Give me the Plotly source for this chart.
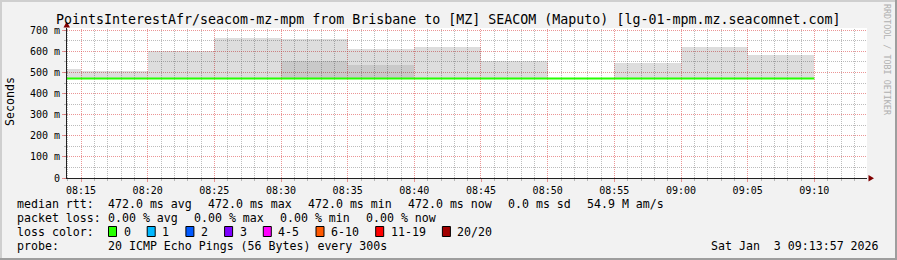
import math
import plotly.graph_objects as go
from datetime import datetime, timedelta

# ---------------- data ----------------
day = "2026-01-03"
bucket_end = ["08:15", "08:20", "08:25", "08:30", "08:35", "08:40",
              "08:45", "08:50", "08:55", "09:00", "09:05", "09:10"]
median_ms = [472, 472, 472, 472, 472, 472, 472, 472, 472, 472, 472, 472]
smoke_min_ms = [471, 471, 471, 471, 471, 471, 471, 471, 472, 471, 471, 471]
smoke_max_ms = [517, 506, 600, 662, 659, 611, 621, 555, 472, 545, 621, 583]
smoke_dense_ms = [471, 471, 471, 471, 553, 536, 471, 471, 472, 471, 471, 471]

y_tickvals = [0, 100, 200, 300, 400, 500, 600, 700]
y_ticktext = ["0", "100 m", "200 m", "300 m", "400 m", "500 m", "600 m", "700 m"]

x_start = "2026-01-03 08:13:57"
x_end = "2026-01-03 09:13:57"
y_max = 711

title_text = "PointsInterestAfr/seacom-mz-mpm from Brisbane to [MZ] SEACOM (Maputo) [lg-01-mpm.mz.seacomnet.com]"
rtt_label = "median rtt:"
rtt_items = ["472.0 ms avg", "472.0 ms max", "472.0 ms min", "472.0 ms now", "0.0 ms sd", "54.9 M am/s"]
loss_label = "packet loss:"
loss_items = ["0.00 % avg", "0.00 % max", "0.00 % min", "0.00 % now"]
color_label = "loss color:"
loss_color_labels = ["0", "1", "2", "3", "4-5", "6-10", "11-19", "20/20"]
loss_colors = ["#26ff00", "#00b8ff", "#0059ff", "#7e00ff", "#ff00fe", "#ff5900", "#ff0000", "#a10000"]
probe_label = "probe:"
probe_text = "20 ICMP Echo Pings (56 Bytes) every 300s"
stamp_text = "Sat Jan\u00a0\u00a03 09:13:57 2026"
side_text = "RRDTOOL / TOBI OETIKER"

# ---------------- geometry ----------------
W_PX, H_PX = 897, 260
L, R, T, B = 67, 30, 28, 82
PW, PH = W_PX - L - R, H_PX - T - B

def px(x):
    return (x - L) / PW

def py(y):
    return 1 - (y - T) / PH

STEP = timedelta(minutes=5)
ends = [datetime.fromisoformat(f"{day} {t}") for t in bucket_end]
centers = [e - STEP / 2 for e in ends]
starts = [e - STEP for e in ends]
t0 = datetime.fromisoformat(x_start)
t1 = datetime.fromisoformat(x_end)
span_s = (t1 - t0).total_seconds()

MONO = "DejaVu Sans Mono"
MGRID = "rgba(222,79,79,0.6)"
GRID = "rgba(143,143,143,0.6)"

fig = go.Figure()

# smoke (light, full range)
fig.add_trace(go.Bar(
    x=centers, base=smoke_min_ms,
    y=[mx - mn for mx, mn in zip(smoke_max_ms, smoke_min_ms)],
    width=[STEP.total_seconds() * 1000] * len(centers),
    marker=dict(color="rgba(0,0,0,0.133)", line=dict(width=0)),
    hoverinfo="skip", showlegend=False))
# smoke (dense core)
fig.add_trace(go.Bar(
    x=centers, base=smoke_min_ms,
    y=[d - mn for d, mn in zip(smoke_dense_ms, smoke_min_ms)],
    width=[STEP.total_seconds() * 1000] * len(centers),
    marker=dict(color="rgba(0,0,0,0.09)", line=dict(width=0)),
    hoverinfo="skip", showlegend=False))
# median line
fig.add_trace(go.Scatter(
    x=starts + [ends[-1]], y=median_ms + [median_ms[-1]],
    mode="lines", line=dict(color=loss_colors[0], width=2, shape="hv"),
    hoverinfo="skip", showlegend=False))

fig.update_layout(
    width=W_PX, height=H_PX,
    margin=dict(l=L, r=R, t=T, b=B, pad=0),
    paper_bgcolor="#f2f2f2", plot_bgcolor="#ffffff",
    barmode="overlay", bargap=0,
    font=dict(family=MONO, size=10, color="#000000"),
    showlegend=False,
)

fig.update_xaxes(
    type="date", range=[x_start, x_end],
    tick0=f"{day} 08:15", dtick=300000, tickformat="%H:%M",
    showgrid=False,
    ticks="outside", ticklen=3, tickcolor=MGRID,
    showline=True, linecolor="#212121", linewidth=1,
    zeroline=False, tickfont=dict(family=MONO, size=10),
    minor=dict(tick0=f"{day} 08:15", dtick=60000, showgrid=False,
               ticks="outside", ticklen=2, tickcolor=GRID),
)
fig.update_yaxes(
    range=[0, y_max], tickvals=y_tickvals, ticktext=y_ticktext,
    showgrid=False,
    ticks="outside", ticklen=4, tickcolor=MGRID,
    showline=True, linecolor="#212121", linewidth=1,
    zeroline=False, tickfont=dict(family=MONO, size=10),
    minor=dict(tick0=0, dtick=50, showgrid=False,
               ticks="outside", ticklen=2, tickcolor=GRID),
)

ann = []
shapes = []

# pixel-snapped dotted grid (like rrdtool), positions from the axis scale
m = t0.replace(second=0) + timedelta(minutes=1)
while m < t1:
    xpix = L + (m - t0).total_seconds() / span_s * PW
    xs = math.floor(xpix) + 0.5
    major = m.minute % 5 == 0
    shapes.append(dict(type="line", xref="paper", yref="paper", layer="below",
                       x0=px(xs), x1=px(xs), y0=0, y1=1,
                       line=dict(color=MGRID if major else GRID, width=1, dash="1px,1px")))
    m += timedelta(minutes=1)
v = 50
while v <= y_max:
    ypix = T + PH - v / y_max * PH
    ys = math.floor(ypix) + 0.5
    major = v % 100 == 0
    shapes.append(dict(type="line", xref="paper", yref="paper", layer="below",
                       x0=0, x1=1, y0=py(ys), y1=py(ys),
                       line=dict(color=MGRID if major else GRID, width=1, dash="1px,1px")))
    v += 50

def text(x, y, s, size=11.6, anchor="left", color="#000000", angle=0):
    ann.append(dict(x=px(x), y=py(y), xref="paper", yref="paper", text=s,
                    showarrow=False, xanchor=anchor, yanchor="middle",
                    textangle=angle, borderpad=0,
                    font=dict(family=MONO, size=size, color=color)))

# title and side labels
text(448.5, 19.5, title_text, size=13.3, anchor="center")
text(10, 102, "Seconds", size=11.6, anchor="center", angle=-90)
text(887, 60, side_text, size=8.4, anchor="center", color="#b0b0b0", angle=90)

CH = 7.0      # monospace advance at 11.6px
GAP = 16.0
X0, X1 = 16, 107
rows_y = [204.3, 218.3, 232.3, 246.3]

# row 1
text(X0, rows_y[0], rtt_label)
x = X1
for s in rtt_items:
    text(x, rows_y[0], s)
    x += len(s) * CH + GAP
# row 2
text(X0, rows_y[1], loss_label)
x = X1
for s in loss_items:
    text(x, rows_y[1], s)
    x += len(s) * CH + GAP
# row 3
text(X0, rows_y[2], color_label)
x = X1
for lab, col in zip(loss_color_labels, loss_colors):
    shapes.append(dict(type="rect", xref="paper", yref="paper",
                       x0=px(x + 1.5), x1=px(x + 9.5), y0=py(236.5), y1=py(226.5),
                       fillcolor=col, line=dict(color="#000000", width=1)))
    text(x + 15.5, rows_y[2], lab)
    x += 15.7 + len(lab) * CH + GAP
# row 4
text(X0, rows_y[3], probe_label)
text(X1, rows_y[3], probe_text)
text(880, rows_y[3], stamp_text, anchor="right")

# axis arrows
ARROW = "#800000"
shapes.append(dict(type="path", xref="paper", yref="paper",
                   path=f"M {px(868.5)} {py(175)} L {px(874)} {py(178.3)} L {px(868.5)} {py(181.5)} Z",
                   fillcolor=ARROW, line=dict(width=0)))
shapes.append(dict(type="path", xref="paper", yref="paper",
                   path=f"M {px(63.5)} {py(27.5)} L {px(66.7)} {py(21.5)} L {px(70)} {py(27.5)} Z",
                   fillcolor=ARROW, line=dict(width=0)))

# 3D shade border
for (x0, y0, x1, y1, c) in [(0, 0, 897, 2, "#cfcfcf"), (0, 0, 2, 260, "#cfcfcf"),
                            (0, 258, 897, 260, "#9e9e9e"), (895, 0, 897, 260, "#9e9e9e")]:
    shapes.append(dict(type="rect", xref="paper", yref="paper",
                       x0=px(x0), x1=px(x1), y0=py(y1), y1=py(y0),
                       fillcolor=c, line=dict(width=0), layer="above"))

fig.update_layout(annotations=ann, shapes=shapes)
fig.write_html("out.html")
